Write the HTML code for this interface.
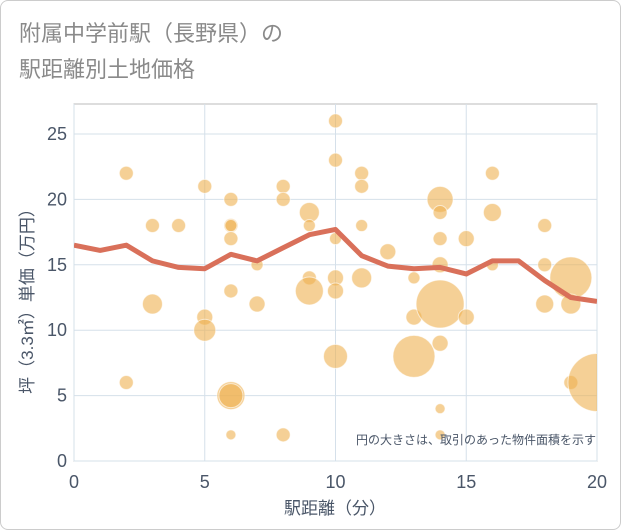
<!DOCTYPE html>
<html><head><meta charset="utf-8"><style>
body{margin:0;background:#fff;font-family:"Liberation Sans","Noto Sans CJK JP",sans-serif;}
#card{position:absolute;left:0;top:0;width:619px;height:528px;border:1px solid #ccc;border-radius:8px;background:#fff;overflow:hidden}
</style></head><body>
<div id="card">
<svg id="svg" width="621" height="530" style="position:absolute;left:0;top:0" font-family="Liberation Sans, Noto Sans CJK JP, sans-serif">
<text x="18" y="40" font-size="22" fill="#8a8a8a">附属中学前駅（長野県）の</text>
<text x="18" y="76" font-size="22" fill="#8a8a8a">駅距離別土地価格</text>
<defs><clipPath id="pc"><rect x="73" y="103" width="523" height="357"/></clipPath></defs>
<g id="grid"></g>
<g id="bubbles" clip-path="url(#pc)"></g>
<g id="line" clip-path="url(#pc)"></g>
<g id="axes"></g>
<text x="595" y="443" font-size="12" fill="#4a5668" text-anchor="end">円の大きさは、取引のあった物件面積を示す</text>
<text x="334" y="513" font-size="17" fill="#4a5668" text-anchor="middle">駅距離（分）</text>
<text transform="translate(32,296) rotate(-90)" font-size="17" fill="#4a5668" text-anchor="middle">坪（3.3㎡）単価（万円）</text>
</svg>
</div>
<script>
const xTicks=[0,5,10,15,20];
const yTicks=[0,5,10,15,20,25];
const bubX=[2,2,3,3,4,5,5,5,6,6,6,6,6,6,6,6,7,7,8,8,8,9,9,9,9,10,10,10,10,10,10,11,11,11,11,12,13,13,13,14,14,14,14,14,14,14,14,15,15,16,16,16,18,18,18,19,19,19,20];
const bubY=[22,6,18,12,18,21,11,10,20,18,18,17,13,5,5,2,15,12,21,20,2,19,18,14,13,26,23,17,14,13,8,22,21,18,14,16,14,11,8,20,19,17,15,12,9,4,2,17,11,22,19,15,18,15,12,14,12,6,6];
const bubR=[7,7,7,10,7,7,8,11,7,7,6,7,7,14,12,5,6,8,7,7,7,10,6,7,14,7,7,6,8,8,12,7,7,6,10,8,6,8,21,13,7,7,8,24,8,5,5,8,8,7,9,6,7,7,9,21,10,7,29];
const lineX=[0,1,2,3,4,5,6,7,8,9,10,11,12,13,14,15,16,17,18,19,20];
const lineY=[16.5,16.1,16.5,15.3,14.8,14.7,15.8,15.3,16.3,17.3,17.7,15.7,14.9,14.7,14.8,14.3,15.3,15.3,13.8,12.5,12.2];
const X=v=>73+v*(596-73)/20, Y=v=>460-v*(460-133)/25;
const NS='http://www.w3.org/2000/svg';
function mk(t,a,p){const e=document.createElementNS(NS,t);for(const k in a)e.setAttribute(k,a[k]);p.appendChild(e);return e;}
const grid=document.getElementById('grid'),axes=document.getElementById('axes');
mk('rect',{x:73,y:103,width:523,height:357,fill:'none',stroke:'#bbb'},grid);
xTicks.forEach(t=>{const l=mk('line',{x1:X(t),x2:X(t),y1:103,y2:460,stroke:'#d5e0ea','stroke-width':1},grid);


const s=mk('text',{x:X(t),y:487,'font-size':18,fill:'#4a5668','text-anchor':'middle'},axes);s.textContent=t;

});
yTicks.forEach(t=>{const l=mk('line',{x1:73,x2:596,y1:Y(t),y2:Y(t),stroke:'#d5e0ea','stroke-width':1},grid);


const s=mk('text',{x:66,y:Y(t)+6,'font-size':18,fill:'#4a5668','text-anchor':'end'},axes);s.textContent=t;

});
const bg=document.getElementById('bubbles');
bubX.forEach((x,i)=>{const c=mk('circle',{cx:X(x),cy:Y(bubY[i]),r:bubR[i],fill:'rgba(238,176,80,0.6)',stroke:'rgba(255,255,255,0.6)','stroke-width':1},bg);

});
const p=mk('polyline',{points:lineX.map((x,i)=>X(x)+','+Y(lineY[i])).join(' '),fill:'none',stroke:'#d9705a','stroke-width':5,'stroke-linejoin':'round'},document.getElementById('line'));


</script>
</body></html>
